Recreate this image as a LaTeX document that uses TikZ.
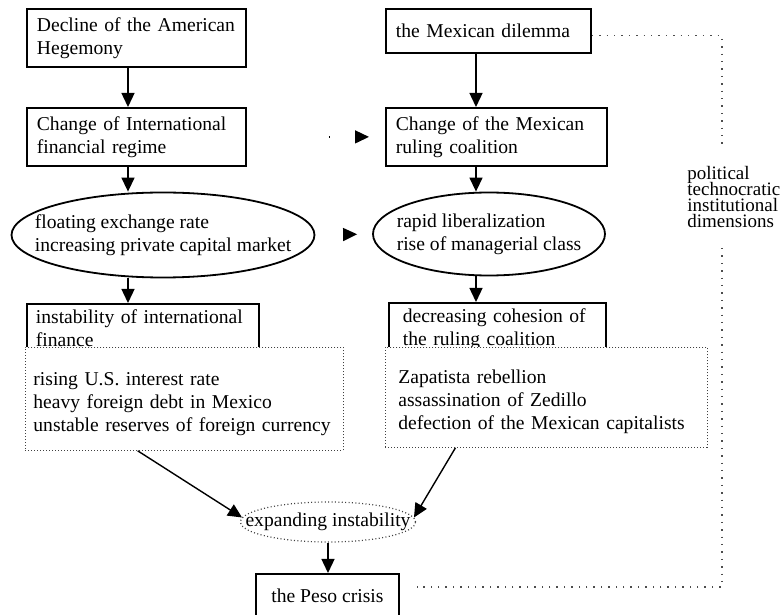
\documentclass[tikz,border=0pt]{standalone}
\usepackage{fontspec}
\setmainfont{Liberation Serif}
\usetikzlibrary{positioning, arrows.meta, shapes.geometric}
\hyphenpenalty=10000
\tikzset{
  x=0.5pt, y=-0.5pt,
  every node/.style={font=\fontsize{9.8pt}{11.5pt}\selectfont},
  box/.style={draw, line width=0.9pt, anchor=north west, align=left,
    inner xsep=4pt, inner ysep=3pt},
  dotbox/.style={draw=black!75, dash pattern=on 0.5pt off 1pt, fill=white,
    anchor=north west, align=left, inner xsep=4pt},
  oval/.style={draw, ellipse, line width=0.9pt, inner sep=0pt},
  arr/.style={-{Triangle[length=7pt,width=6.5pt]}, line width=0.7pt},
  ghost/.style={arr, dash pattern=on 0pt off 500pt},
  bracket/.style={draw=black!70, dash pattern=on 0.7pt off 3pt, line width=0.6pt}
}

\begin{document}
\begin{tikzpicture}
    \useasboundingbox (0,0) rectangle (784,615);

    % international side
    \node[box, inner xsep=5pt, text width=99.5pt, minimum height=29pt] (dec) at (26,8)
        {Decline of the American\\Hegemony};
    \node[box, inner xsep=5pt, text width=99.5pt, minimum height=29pt] (chg) at (26,107)
        {Change of International\\financial regime};
    \node[oval, minimum width=151.5pt, minimum height=42.5pt] (flt) at (163,235) {};
    \node[align=left] (fltTxt) at (flt) {floating exchange rate\\increasing private capital market};
    \node[box, inner xsep=4.5pt, text width=107pt] (inst) at (26,303)
        {instability of international\\finance};
    \node[dotbox, text width=151pt, minimum height=51.5pt] (facts) at (25,347)
        {\mbox{}\\rising U.S. interest rate\\heavy foreign debt in Mexico\\unstable reserves of foreign currency};

    % Mexican side
    \node[box, inner xsep=5pt, text width=92.5pt, minimum height=22pt] (dil) at (385,8)
        {the Mexican dilemma};
    \node[box, inner xsep=5pt, text width=100.5pt, minimum height=29pt] (mxchg) at (385,107)
        {Change of the Mexican\\ruling coalition};
    \node[oval, minimum width=116pt, minimum height=41.5pt] (lib) at (489,234) {};
    \node[align=left] (libTxt) at (lib) {rapid liberalization\\rise of managerial class};
    \node[box, inner xsep=7pt, text width=94.5pt] (coh) at (388,302)
        {decreasing cohesion of\\the ruling coalition};
    \node[dotbox, text width=148pt, inner xsep=6.5pt, minimum height=50pt] (events) at (385,347)
        {\mbox{}\\Zapatista rebellion\\assassination of Zedillo\\defection of the Mexican capitalists};

    % outcome
    \node[oval, draw=black!75, line width=0.6pt, dash pattern=on 0.5pt off 1.2pt,
        minimum width=87.5pt, minimum height=20pt] (exp) at (328,522) {};
    \node (expTxt) at (exp) {expanding instability};
    \node[box, align=center, minimum width=71.5pt, minimum height=22pt] (peso) at (255,573)
        {the Peso crisis};

    \node[anchor=west, align=left, inner sep=0pt,
        font={\fontsize{9.5pt}{8pt}\selectfont\lineskiplimit=-6pt\relax}] (dims) at (687,197)
        {political\\technocratic\\institutional\\dimensions};

    \coordinate (lx) at (128,0);
    \coordinate (rx) at (476,0);
    \coordinate (bt) at (722,147);
    \coordinate (bb) at (722,248);
    \coordinate (bc) at (722,587);
    \coordinate (be) at (417,587);

    \draw[arr] (dec.south -| lx) -- (chg.north -| lx);
    \draw[arr] (chg.south -| lx) -- (lx |- flt.north);
    \draw[arr] (flt.south -| lx) -- (inst.north -| lx);
    \draw[arr] (dil.south -| rx) -- (mxchg.north -| rx);
    \draw[arr] (mxchg.south -| rx) -- (rx |- lib.north);
    \draw[arr] (lib.south -| rx) -- (coh.north -| rx);

    \draw[ghost, dash pattern=on 0pt off 41pt on 0.7pt off 500pt, shorten >=8pt] (chg.east) -- (mxchg.west);
    \draw[ghost, shorten >=7.5pt] (flt.east) -- (lib.west);

    \draw[arr] (facts.228) -- (exp.177);
    \draw[arr] (events.209) -- (exp.3);
    \draw[arr] (exp.south) -- (exp.south |- peso.north);

    \draw[bracket] ([yshift=-2.5pt]dil.east) -| (bt);
    \draw[bracket] (bb) -- (bc) -- (be);
\end{tikzpicture}
\end{document}
